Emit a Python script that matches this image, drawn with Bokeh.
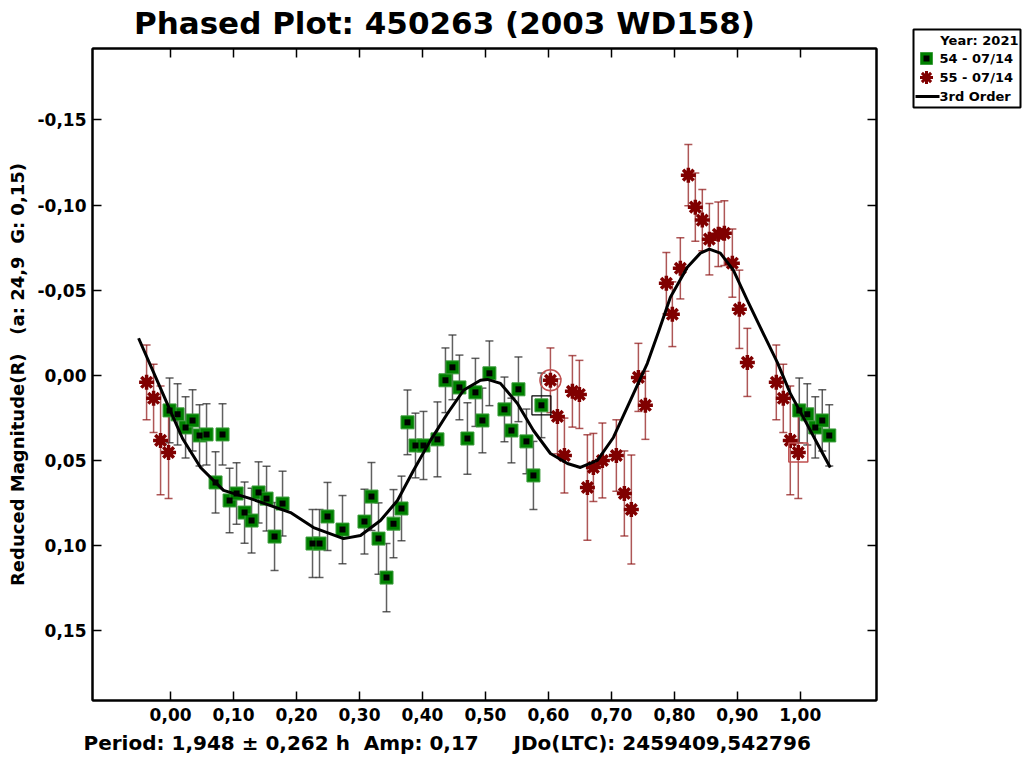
import math
from bokeh.plotting import figure
from bokeh.models import (Range1d, FixedTicker, CustomJSTickFormatter, LinearAxis,
                          Title, Whisker, TeeHead, ColumnDataSource)
from bokeh.layouts import row, column
from bokeh.embed import file_html
from bokeh.resources import INLINE
from bokeh.core.properties import value

# ---------------- texts ----------------
title_text = "Phased Plot: 450263 (2003 WD158)"
y_label_text = "Reduced Magnitude(R)   (a: 24,9  G: 0,15)"
footer_text = "Period: 1,948 \u00b1 0,262 h  Amp: 0,17     JDo(LTC): 2459409,542796"
legend_title = "Year: 2021"
series_names = ["54 - 07/14", "55 - 07/14"]
fit_name = "3rd Order"

# ---------------- ticks ----------------
x_ticks = [0.0, 0.1, 0.2, 0.3, 0.4, 0.5, 0.6, 0.7, 0.8, 0.9, 1.0]
y_ticks = [-0.15, -0.10, -0.05, 0.0, 0.05, 0.10, 0.15]

# ---------------- session 54 (green squares) ----------------
green_phase = [0.0111, 0.0238, 0.0349, 0.0460, 0.0571, 0.0714, 0.0825, 0.0937, 0.1048, 0.1175,
               0.1286, 0.1397, 0.1524, 0.1651, 0.1778, 0.2254, 0.2365, 0.2492, 0.2730, 0.3079,
               0.3190, 0.3302, 0.3429, 0.3540, 0.3667, 0.3762, 0.3889, 0.4016, 0.4238, 0.4365,
               0.4476, 0.4587, 0.4714, 0.4841, 0.4952, 0.5063, 0.5302, 0.5413, 0.5524, 0.5651,
               0.5762, 0.5889, 0.9984]
green_mag = [0.0229, 0.0306, 0.0265, 0.0353, 0.0347, 0.0629, 0.0347, 0.0735, 0.0694, 0.0806,
             0.0853, 0.0688, 0.0724, 0.0947, 0.0753, 0.0988, 0.0988, 0.0829, 0.0906, 0.0859,
             0.0712, 0.0959, 0.1188, 0.0871, 0.0782, 0.0276, 0.0412, 0.0412, 0.0376, 0.0029,
             -0.0047, 0.0071, 0.0371, 0.0100, 0.0265, -0.0012, 0.0200, 0.0324, 0.0082, 0.0388,
             0.0588, 0.0176, 0.0206]
green_err = [0.018, 0.018, 0.018, 0.018, 0.018, 0.018, 0.018, 0.019, 0.018, 0.018,
             0.019, 0.018, 0.019, 0.020, 0.019, 0.020, 0.020, 0.020, 0.020, 0.019,
             0.020, 0.021, 0.020, 0.020, 0.019, 0.019, 0.019, 0.020, 0.022, 0.019,
             0.019, 0.019, 0.021, 0.020, 0.019, 0.019, 0.019, 0.019, 0.019, 0.019,
             0.020, 0.019, 0.019]
green_box_idx = 41

# ---------------- session 55 (dark red asterisks) ----------------
red_phase = [0.6032, 0.6143, 0.6254, 0.6381, 0.6492, 0.6619, 0.6714, 0.6857, 0.7079, 0.7206,
             0.7317, 0.7429, 0.7540, 0.7873, 0.7968, 0.8095, 0.8222, 0.8333, 0.8444, 0.8556,
             0.8698, 0.8794, 0.8921, 0.9032, 0.9159, 0.9619, 0.9730, 0.9841, 0.9968]
red_mag = [0.0029, 0.0241, 0.0471, 0.0094, 0.0112, 0.0659, 0.0541, 0.0500, 0.0471, 0.0694,
           0.0788, 0.0012, 0.0176, -0.0541, -0.0359, -0.0629, -0.1176, -0.0988, -0.0912, -0.0800,
           -0.0829, -0.0835, -0.0659, -0.0388, -0.0076, 0.0041, 0.0135, 0.0382, 0.0453]
red_err = [0.019, 0.022, 0.022, 0.021, 0.020, 0.031, 0.020, 0.022, 0.021, 0.025,
           0.032, 0.020, 0.020, 0.018, 0.019, 0.018, 0.018, 0.020, 0.018, 0.021,
           0.019, 0.019, 0.020, 0.023, 0.020, 0.022, 0.020, 0.032, 0.027]
red_circle_idx = 0
red_box_idx = 28

# ---------------- 3rd order fit curve ----------------
fit_phase = [-0.0508, -0.0159, 0.0, 0.0190, 0.0476, 0.0841, 0.1270, 0.1587, 0.1905, 0.2270,
             0.2746, 0.3016, 0.3333, 0.3603, 0.3857, 0.4127, 0.4397, 0.4651, 0.4921, 0.5032,
             0.5238, 0.5508, 0.5762, 0.6032, 0.6302, 0.6508, 0.6778, 0.7032, 0.7302, 0.7571,
             0.7746, 0.7937, 0.8206, 0.8413, 0.8556, 0.8730, 0.8937, 0.9159, 0.9365, 0.9635,
             0.9841, 1.0048, 1.0270, 1.0476]
fit_mag = [-0.0218, 0.0076, 0.0212, 0.0371, 0.0541, 0.0676, 0.0724, 0.0765, 0.0806, 0.0894,
           0.0959, 0.0941, 0.0853, 0.0735, 0.0559, 0.0382, 0.0224, 0.0088, 0.0029, 0.0024,
           0.0047, 0.0165, 0.0324, 0.0459, 0.0518, 0.0541, 0.0500, 0.0365, 0.0147, -0.0071,
           -0.0253, -0.0459, -0.0635, -0.0718, -0.0741, -0.0718, -0.0618, -0.0441, -0.0282, -0.0076,
           0.0106, 0.0247, 0.0400, 0.0541]

PH_LO, PH_HI = -0.05, 1.05
FONT = "DejaVu Sans"
NBSP = "\u00a0"

# layout constants (pixels)
FRAME_L, FRAME_W, FRAME_R = 92, 784, 19
TH = 40


def keep_spaces(s):
    # SVG collapses runs of spaces; keep them as non-breaking spaces
    return s.replace(" ", NBSP)


def wrapped(ph, mg, er):
    xs, ys, lo, hi = [], [], [], []
    for p_, m_, e_ in zip(ph, mg, er):
        for s in (-1, 0, 1):
            q = p_ + s
            if PH_LO <= q <= PH_HI:
                xs.append(q)
                ys.append(m_)
                lo.append(m_ - e_)
                hi.append(m_ + e_)
    return ColumnDataSource(dict(x=xs, y=ys, lo=lo, hi=hi))


g_src = wrapped(green_phase, green_mag, green_err)
r_src = wrapped(red_phase, red_mag, red_err)

# ---------------- title strip (frame aligned with the main frame) ----------------
tf = figure(frame_width=FRAME_W, frame_height=TH,
            min_border_left=FRAME_L, min_border_right=FRAME_R, min_border_top=0, min_border_bottom=0,
            x_range=Range1d(0, FRAME_W), y_range=Range1d(TH, 0),
            x_axis_location=None, y_axis_location=None, output_backend="svg",
            toolbar_location=None)
tf.grid.visible = False
tf.outline_line_color = None
tf.border_fill_color = "white"
tf.text(x=[444 - FRAME_L], y=[22], text=[title_text], text_align="center", text_baseline="middle",
        text_font=value(FONT), text_font_style="bold", text_font_size="31px",
        text_color="black")

# ---------------- main plot ----------------
p = figure(frame_width=FRAME_W, frame_height=652,
           min_border_left=FRAME_L, min_border_right=FRAME_R, min_border_top=48 - TH,
           min_border_bottom=65,
           x_range=Range1d(-0.124, 1.121), y_range=Range1d(0.191, -0.192),
           output_backend="svg", toolbar_location=None)
p.grid.visible = False
p.outline_line_color = "black"
p.outline_line_width = 2
p.background_fill_color = "white"
p.border_fill_color = "white"

fmt = CustomJSTickFormatter(code="if (Math.abs(tick) < 1e-9) { return '0,00'; } return tick.toFixed(2).replace('.', ',');")
blank = CustomJSTickFormatter(code="return '';")

for ax, ticks in ((p.xaxis[0], x_ticks), (p.yaxis[0], y_ticks)):
    ax.ticker = FixedTicker(ticks=ticks)
    ax.formatter = fmt
    ax.major_tick_in = 9
    ax.major_tick_out = 0
    ax.minor_tick_line_color = None
    ax.axis_line_width = 2
    ax.major_tick_line_width = 1.5
    ax.major_label_text_font = FONT
    ax.major_label_text_font_style = "bold"
    ax.major_label_text_font_size = "17px"
    ax.major_label_text_color = "black"
p.xaxis[0].major_label_standoff = 7
p.yaxis[0].major_label_standoff = 6

yax = p.yaxis[0]
yax.axis_label = keep_spaces(y_label_text)
yax.axis_label_text_font = FONT
yax.axis_label_text_font_style = "bold"
yax.axis_label_text_font_size = "18px"
yax.axis_label_text_color = "black"
yax.axis_label_standoff = 7

for loc, ticks in (("above", x_ticks), ("right", y_ticks)):
    ax = LinearAxis(ticker=FixedTicker(ticks=ticks), formatter=blank,
                    major_tick_in=9, major_tick_out=0, minor_tick_line_color=None,
                    axis_line_width=2, major_tick_line_width=1.5,
                    major_label_text_font_size="0px", major_label_standoff=0)
    p.add_layout(ax, loc)

# error bars
p.add_layout(Whisker(source=g_src, base="x", lower="lo", upper="hi", dimension="height",
                     line_color="#2b2b2b", line_alpha=0.75, line_width=1.5,
                     upper_head=TeeHead(size=8, line_color="#2b2b2b", line_alpha=0.75, line_width=1.5),
                     lower_head=TeeHead(size=8, line_color="#2b2b2b", line_alpha=0.75, line_width=1.5)))
p.add_layout(Whisker(source=r_src, base="x", lower="lo", upper="hi", dimension="height",
                     line_color="#8b1010", line_alpha=0.7, line_width=1.5,
                     upper_head=TeeHead(size=8, line_color="#8b1010", line_alpha=0.7, line_width=1.5),
                     lower_head=TeeHead(size=8, line_color="#8b1010", line_alpha=0.7, line_width=1.5)))

# markers
p.scatter(x="x", y="y", source=g_src, marker="square", size=13,
          fill_color="#008000", line_color="#3c9c3c", line_width=1)
p.scatter(x="x", y="y", source=g_src, marker="square", size=6,
          fill_color="black", line_color=None)
p.scatter(x="x", y="y", source=r_src, marker="asterisk", size=15,
          line_color="#800000", line_width=3.5)

# fit curve
p.line(fit_phase, fit_mag, line_color="black", line_width=3, line_join="round")

# highlighted points
p.scatter(x=[green_phase[green_box_idx]], y=[green_mag[green_box_idx]], marker="square",
          size=19, fill_color=None, line_color="black", line_width=1.2)
p.scatter(x=[red_phase[red_circle_idx]], y=[red_mag[red_circle_idx]], marker="circle",
          size=21, fill_color=None, line_color="#c05050", line_width=1.5)
p.scatter(x=[red_phase[red_box_idx]], y=[red_mag[red_box_idx]], marker="square",
          size=19, fill_color=None, line_color="#c05050", line_width=1.5)

# footer
p.add_layout(Title(text=keep_spaces(footer_text), align="left", offset=-9, standoff=10,
                   text_font=FONT, text_font_style="bold", text_font_size="20px",
                   text_color="black"), "below")

# ---------------- legend panel ----------------
lg = figure(frame_width=107, frame_height=78,
            min_border_left=18, min_border_right=5, min_border_top=29, min_border_bottom=658,
            x_range=Range1d(0, 107), y_range=Range1d(78, 0),
            x_axis_location=None, y_axis_location=None,
            output_backend="svg", toolbar_location=None)
lg.grid.visible = False
lg.outline_line_color = "black"
lg.outline_line_width = 2
lg.border_fill_color = "white"

txt = dict(text_font=value(FONT), text_font_style="bold", text_font_size="13px",
           text_baseline="middle", text_color="black")
lg.text(x=[105], y=[11], text=[legend_title], text_align="right", **txt)
lg.scatter(x=[13], y=[29], marker="square", size=12, fill_color="#008000",
           line_color="#3c9c3c", line_width=1)
lg.scatter(x=[13], y=[29], marker="square", size=6, fill_color="black", line_color=None)
lg.text(x=[26], y=[29], text=[series_names[0]], text_align="left", **txt)
lg.scatter(x=[13], y=[48], marker="asterisk", size=13, line_color="#800000", line_width=3)
lg.text(x=[26], y=[48], text=[series_names[1]], text_align="left", **txt)
lg.line(x=[2, 26], y=[67, 67], line_color="black", line_width=3)
lg.text(x=[26], y=[67], text=[fit_name], text_align="left", **txt)

layout = row(column(tf, p), lg)
open("out.html", "w").write(file_html(layout, INLINE))
